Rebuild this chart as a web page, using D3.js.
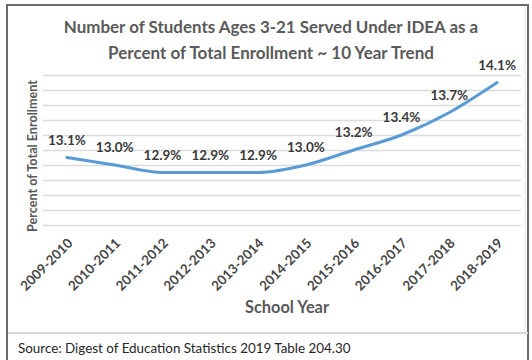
<!DOCTYPE html>
<html>
<head>
<meta charset="utf-8">
<script src="https://cdn.jsdelivr.net/npm/d3@7/dist/d3.min.js"></script>
<style>
  html, body { margin: 0; padding: 0; background: #fff; }
  svg { display: block; }
  text { font-family: Lato, "Open Sans", sans-serif; }
</style>
</head>
<body>
<svg id="chart" width="532" height="360"></svg>
<script>
// School years on the x axis and IDEA share of total enrollment (%)
const schoolYears = ["2009-2010", "2010-2011", "2011-2012", "2012-2013", "2013-2014",
                     "2014-2015", "2015-2016", "2016-2017", "2017-2018", "2018-2019"];
const percentServed = [13.1, 13.0, 12.9, 12.9, 12.9, 13.0, 13.2, 13.4, 13.7, 14.1];
const yDomain = [12.2, 14.2];

const titleLines = ["Number of Students Ages 3-21 Served Under IDEA as a",
                    "Percent of Total Enrollment ~ 10 Year Trend"];
const xTitle = "School Year";
const yTitle = "Percent of Total Enrollment";
const sourceNote = "Source: Digest of Education Statistics 2019 Table 204.30";

const svg = d3.select("#chart");
const W = 532, H = 360;
const plot = { left: 43, right: 521, top: 75, bottom: 225 };

// shrink or grow a text node's font until it spans the given width
function fitWidth(sel, width) {
  const node = sel.node();
  const fs = parseFloat(sel.attr("font-size"));
  const len = node.getComputedTextLength();
  sel.attr("font-size", (fs * width / len).toFixed(2));
  return sel;
}

svg.append("rect").attr("width", W).attr("height", H).attr("fill", "#fff");

// outer frame
svg.append("rect")
  .attr("x", 7).attr("y", 5).attr("width", 521).attr("height", H + 10)
  .attr("fill", "none").attr("stroke", "#6a6a6a").attr("stroke-width", 2);
svg.append("line")
  .attr("x1", 525).attr("x2", 525).attr("y1", 6).attr("y2", 333)
  .attr("stroke", "#e4e4e4").attr("stroke-width", 1);
// divider above the source note
svg.append("line")
  .attr("x1", 8).attr("x2", 528).attr("y1", 333).attr("y2", 333)
  .attr("stroke", "#d6d6d6").attr("stroke-width", 2);

const x = d3.scalePoint().domain(schoolYears)
  .range([plot.left, plot.right]).padding(0.5);
const y = d3.scaleLinear().domain(yDomain).range([plot.bottom, plot.top]);

// horizontal gridlines
svg.append("g")
  .selectAll("line")
  .data(y.ticks(10))
  .join("line")
  .attr("x1", plot.left).attr("x2", plot.right)
  .attr("y1", d => Math.round(y(d)) + 0.5).attr("y2", d => Math.round(y(d)) + 0.5)
  .attr("stroke", "#dcdcdc").attr("stroke-width", 1.3);

// x axis labels (tick lines hidden)
const xAxis = svg.append("g")
  .attr("transform", `translate(0,${plot.bottom})`)
  .call(d3.axisBottom(x).tickSize(0).tickPadding(0));
xAxis.select(".domain").remove();
xAxis.selectAll(".tick text")
  .attr("font-family", "Lato, sans-serif")
  .attr("font-size", 13.4)
  .attr("font-weight", 700)
  .attr("fill", "#474747")
  .attr("text-anchor", "end")
  .attr("dy", 0)
  .attr("y", 0)
  .attr("transform", "translate(6,19) rotate(-45)");

// trend line
const line = d3.line()
  .x((d, i) => x(schoolYears[i]))
  .y(d => y(d))
  .curve(d3.curveMonotoneX);
svg.append("path")
  .datum(percentServed)
  .attr("d", line)
  .attr("fill", "none")
  .attr("stroke", "#5b9bd5")
  .attr("stroke-width", 3)
  .attr("stroke-linecap", "round");

// value labels
svg.append("g")
  .selectAll("text")
  .data(percentServed)
  .join("text")
  .attr("x", (d, i) => x(schoolYears[i]))
  .attr("y", d => y(d) - 13)
  .attr("text-anchor", "middle")
  .attr("font-size", 13.5)
  .attr("font-weight", 700)
  .attr("fill", "#3a3a3a")
  .text(d => d.toFixed(1) + "%");

// chart title
titleLines.forEach((t, i) => {
  const el = svg.append("text")
    .attr("x", 271).attr("y", i === 0 ? 33 : 59)
    .attr("text-anchor", "middle")
    .attr("font-size", 17)
    .attr("font-weight", 700)
    .attr("fill", "#5a5a5a")
    .text(t);
  fitWidth(el, i === 0 ? 415 : 326);
});

// axis titles
fitWidth(svg.append("text")
  .attr("x", 287).attr("y", 313)
  .attr("text-anchor", "middle")
  .attr("font-size", 16)
  .attr("font-weight", 700)
  .attr("fill", "#595959")
  .text(xTitle), 84);

fitWidth(svg.append("text")
  .attr("transform", "translate(37,156) rotate(-90)")
  .attr("text-anchor", "middle")
  .attr("font-size", 11)
  .attr("font-weight", 700)
  .attr("fill", "#595959")
  .text(yTitle), 152);

// source note
fitWidth(svg.append("text")
  .attr("x", 18).attr("y", 353)
  .attr("font-size", 13)
  .attr("font-weight", 400)
  .attr("fill", "#262626")
  .text(sourceNote), 333);
</script>
</body>
</html>
